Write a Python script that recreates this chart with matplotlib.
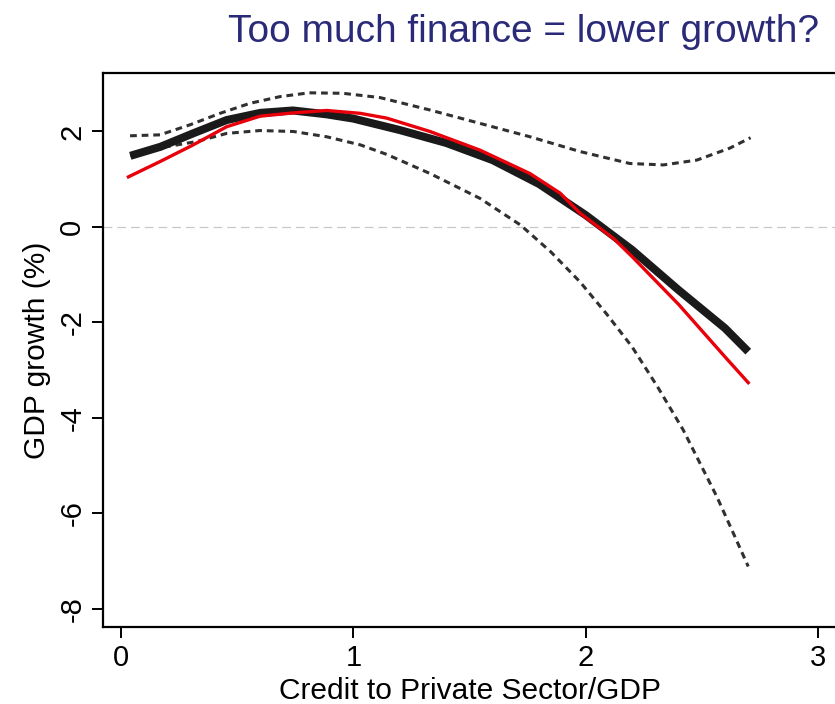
import numpy as np
import matplotlib
matplotlib.use('Agg')
import matplotlib.pyplot as plt

plt.rcParams.update({
    'font.family': ['Liberation Sans', 'DejaVu Sans'],
    'axes.linewidth': 1.6,
})

# credit / GDP grid and the fitted curves read off the estimation output
fit_x = [0.04, 0.17, 0.31, 0.455, 0.6, 0.74, 0.885, 1.0, 1.2, 1.4, 1.6, 1.8, 2.0, 2.2, 2.4, 2.6, 2.7]
fit_y = [1.49, 1.68, 1.96, 2.24, 2.39, 2.44, 2.36, 2.27, 2.03, 1.76, 1.40, 0.90, 0.25, -0.48, -1.32, -2.12, -2.61]

alt_x = [0.032, 0.168, 0.311, 0.455, 0.598, 0.742, 0.885, 1.03, 1.144, 1.33, 1.545, 1.76, 1.89, 1.976,
         2.12, 2.2, 2.4, 2.6, 2.7]
alt_y = [1.05, 1.37, 1.72, 2.10, 2.32, 2.39, 2.44, 2.38, 2.28, 2.00, 1.61, 1.12, 0.71, 0.29,
         -0.24, -0.62, -1.62, -2.72, -3.26]

upper_x = [0.039, 0.168, 0.297, 0.426, 0.555, 0.684, 0.81, 0.955, 1.115, 1.33, 1.545, 1.76, 1.976,
           2.19, 2.335, 2.478, 2.62, 2.71]
upper_y = [1.91, 1.93, 2.14, 2.38, 2.59, 2.73, 2.81, 2.80, 2.71, 2.45, 2.17, 1.89, 1.58,
           1.33, 1.30, 1.40, 1.65, 1.87]

lower_x = [0.04, 0.17, 0.326, 0.455, 0.598, 0.742, 0.885, 1.03, 1.144, 1.33, 1.545, 1.72, 1.85, 1.976,
           2.09, 2.2, 2.31, 2.42, 2.565, 2.63, 2.7]
lower_y = [1.49, 1.66, 1.79, 1.96, 2.02, 2.00, 1.89, 1.72, 1.52, 1.12, 0.60, 0.04, -0.52, -1.15,
           -1.82, -2.51, -3.35, -4.25, -5.65, -6.35, -7.11]

x_ticks = [0, 1, 2, 3]
y_ticks = [-8, -6, -4, -2, 0, 2]

fig = plt.figure(figsize=(8.35, 7.04), dpi=100)
ax = fig.add_axes([103 / 835, 77 / 704, 747 / 835, 554 / 704])

ax.axhline(0, color='#c8c8c8', lw=0.9, dashes=(7, 4), zorder=1)

ci_style = dict(color='#303030', lw=2.2, dashes=(2.2, 1.6), zorder=2)
ax.plot(upper_x, upper_y, **ci_style)
ax.plot(lower_x, lower_y, **ci_style)
ax.plot(fit_x, fit_y, color='#1a1a1a', lw=5.8, solid_capstyle='butt', zorder=3)
ax.plot(alt_x, alt_y, color='#e8000b', lw=2.4, zorder=4)

ax.set_xlim(-0.0775, 3.138)
ax.set_ylim(-8.377, 3.225)
ax.set_xticks(x_ticks)
ax.set_yticks(y_ticks)
ax.set_xticklabels([str(t) for t in x_ticks], fontsize=21)
ax.set_yticklabels([str(t) for t in y_ticks], fontsize=21, rotation=90, va='center')
ax.tick_params(direction='out', length=8, width=1.4, pad=4)

ax.set_xlabel('Credit to Private Sector/GDP', fontsize=21.5, labelpad=4)
ax.xaxis.label.set_x(0.491)
ax.set_ylabel('GDP growth (%)', fontsize=21.5, labelpad=5)

fig.text(0.6275, 0.955, 'Too much finance = lower growth?', fontsize=28,
         color='#2a2a78', ha='center', va='center')

fig.savefig('out.png', dpi=100)
